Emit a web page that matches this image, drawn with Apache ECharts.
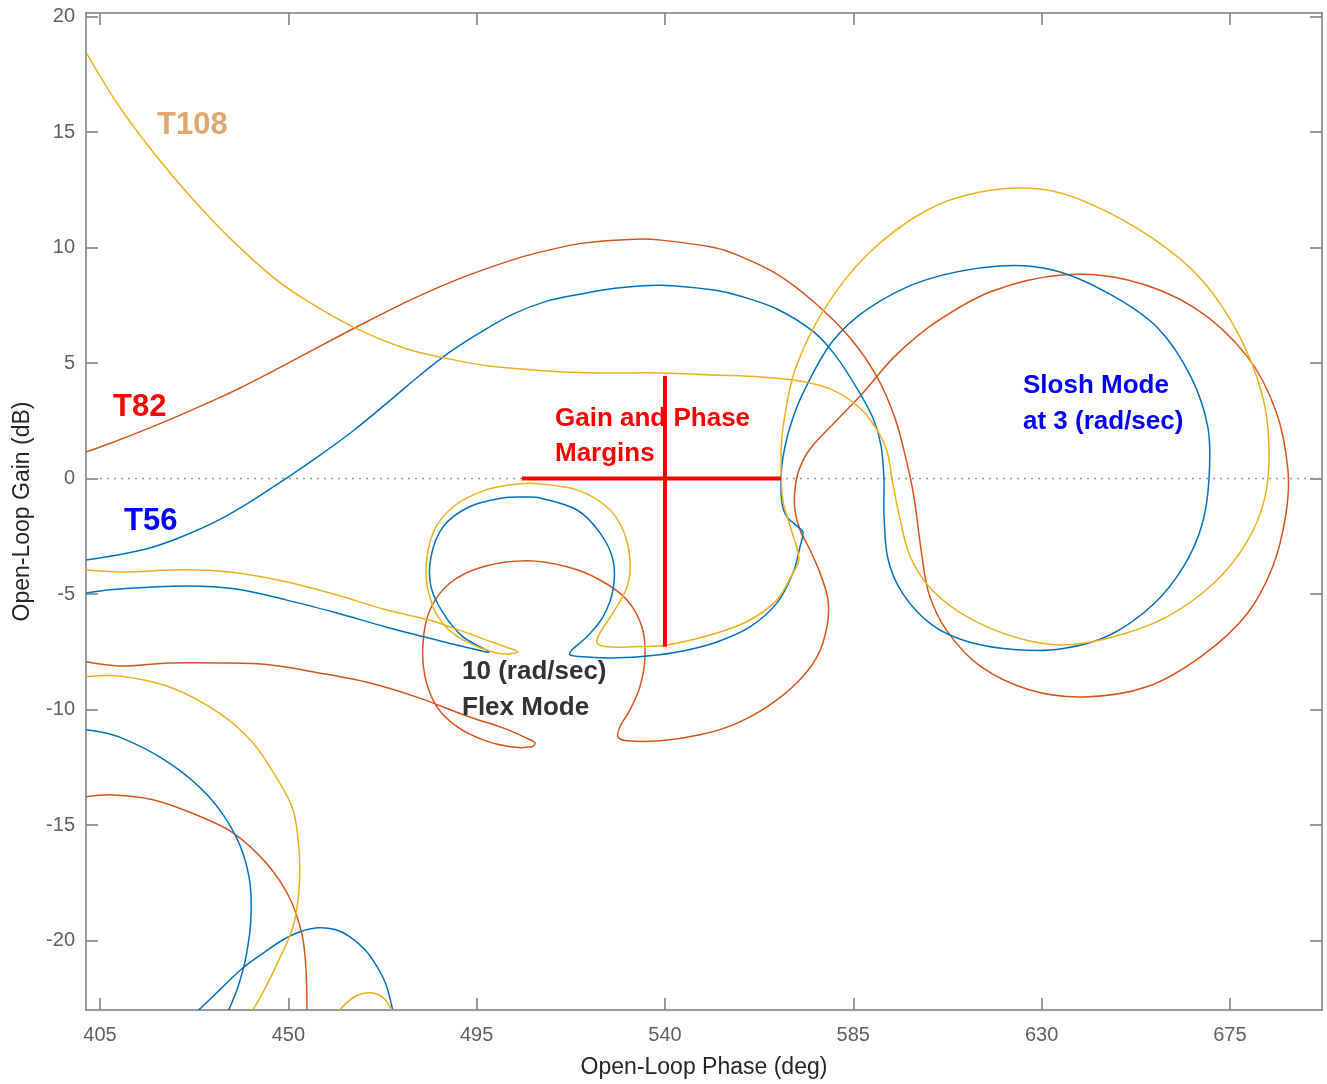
<!DOCTYPE html>
<html>
<head>
<meta charset="utf-8">
<script src="https://cdn.jsdelivr.net/npm/echarts@6/dist/echarts.min.js"></script>
<style>
html, body { margin: 0; padding: 0; background: #ffffff; }
#chart { width: 1327px; height: 1084px; }
</style>
</head>
<body>
<div id="chart"></div>
<script>
// Axis ranges and tick values
const phaseRange = [401.65, 697];
const gainRange = [-23, 20.15];
const phaseTicks = [405, 450, 495, 540, 585, 630, 675];
const gainTicks = [-20, -15, -10, -5, 0, 5, 10, 15, 20];

// Nichols traces: [open-loop phase (deg), open-loop gain (dB)]
const t56Main = [
  [401.65,-4.95],[409.54,-4.78],[425.55,-4.65],[437.50,-4.78],[449.44,-5.25],[461.39,-5.81],
  [473.34,-6.42],[485.28,-6.98],[493.17,-7.33],[497.95,-7.50],[491.74,-6.85],[486.96,-5.81],
  [484.09,-4.69],[484.09,-3.39],[486.96,-2.09],[493.17,-1.23],[501.29,-0.84],[506.79,-0.80],
  [510.13,-0.84],[518.97,-1.36],[524.47,-2.35],[527.58,-3.52],[527.58,-4.82],[525.19,-5.99],
  [521.36,-6.85],[517.78,-7.41],[517.30,-7.63],[521.36,-7.72],[528.53,-7.76],[536.42,-7.67],
  [544.30,-7.46],[552.43,-7.07],[560.31,-6.42],[566.76,-5.38],[570.59,-4.08],[572.26,-2.96],
  [572.98,-2.31],[571.78,-2.09],[569.15,-1.66],[567.96,-1.06],[567.72,0.03],[568.20,0.93],
  [569.87,2.23],[572.98,3.70],[579.90,5.91],[588.75,7.38],[602.13,8.59],[619.81,9.20],
  [632.95,9.02],[646.33,7.98],[657.80,6.51],[665.68,4.40],[669.75,2.19],[669.98,-0.06],
  [668.31,-2.01],[664.01,-3.78],[656.84,-5.42],[646.33,-6.77],[634.86,-7.37],[624.11,-7.41],
  [612.64,-7.07],[603.80,-6.33],[596.87,-4.99],[593.29,-3.48],[592.33,-1.53],[592.33,-0.06],
  [591.61,1.45],[589.70,2.62],[586.12,3.83],[580.86,5.30],[575.60,6.34],[566.76,7.34],
  [557.92,7.90],[551.71,8.16],[539.05,8.37],[528.05,8.24],[519.69,7.98],[511.81,7.68],
  [503.68,7.12],[495.80,6.32],[488.63,5.48],[481.22,4.44],[473.34,3.23],[465.45,2.06],
  [457.33,0.98],[449.68,0.03],[441.56,-0.93],[433.43,-1.79],[425.55,-2.44],[417.66,-2.96],
  [409.54,-3.30],[401.65,-3.52]
];
const t56LowArc = [
  [401.65,-10.87],[409.54,-11.18],[421.49,-12.30],[431.04,-13.77],[437.50,-15.50],
  [440.60,-17.23],[441.08,-18.96],[439.89,-20.69],[437.97,-21.99],[435.58,-23.07]
];
const t56LowHump = [
  [428.18,-23.07],[433.67,-22.12],[439.17,-21.17],[444.43,-20.48],[448.73,-19.96],
  [452.79,-19.61],[457.09,-19.44],[461.15,-19.52],[464.74,-19.83],[468.32,-20.39],
  [471.19,-21.12],[473.34,-21.90],[475.01,-23.07]
];

const t82Main = [
  [401.65,-7.93],[409.54,-8.11],[421.49,-7.98],[433.43,-7.98],[445.38,-8.06],[457.33,-8.41],
  [469.28,-8.84],[481.22,-9.49],[493.17,-10.31],[501.29,-10.79],[506.79,-11.22],[508.94,-11.44],
  [508.22,-11.61],[502.97,-11.61],[496.51,-11.31],[490.30,-10.74],[485.52,-9.88],[482.66,-8.58],
  [482.18,-7.11],[483.85,-5.68],[488.63,-4.52],[496.51,-3.82],[507.03,-3.56],[516.59,-3.82],
  [524.47,-4.39],[530.92,-5.25],[534.51,-6.42],[535.22,-7.72],[534.03,-9.01],[531.64,-10.01],
  [529.25,-10.74],[528.77,-11.18],[530.92,-11.35],[538.81,-11.35],[548.36,-11.09],[556.25,-10.66],
  [564.37,-9.88],[571.54,-8.84],[576.32,-7.72],[578.71,-6.42],[578.95,-5.25],[577.04,-4.08],
  [574.65,-3.09],[572.26,-2.22],[571.06,-1.36],[571.06,-0.49],[572.02,0.37],[574.65,1.28],
  [580.86,2.49],[587.07,3.66],[594.96,5.30],[604.75,6.77],[618.13,8.11],[634.86,8.81],
  [650.63,8.59],[666.64,7.38],[679.06,5.30],[685.99,2.92],[688.86,0.37],[688.38,-1.53],
  [685.28,-3.78],[679.06,-5.86],[668.31,-7.67],[655.17,-9.01],[640.12,-9.45],[626.98,-9.14],
  [615.27,-8.11],[607.38,-6.59],[603.08,-4.99],[601.17,-3.04],[599.50,-0.80],[597.59,0.85],
  [594.96,2.62],[590.66,4.40],[584.44,6.04],[575.60,7.64],[566.76,8.85],[557.92,9.63],
  [551.71,10.00],[539.05,10.32],[532.83,10.36],[520.41,10.19],[510.13,9.80],[502.25,9.39],
  [490.30,8.61],[478.36,7.66],[466.41,6.57],[454.46,5.43],[446.34,4.65],[438.45,3.92],
  [433.43,3.49],[421.49,2.54],[409.54,1.67],[401.65,1.15]
];
const t82LowArc = [
  [401.65,-13.77],[408.11,-13.69],[417.66,-13.90],[427.94,-14.55],[436.78,-15.33],
  [444.66,-16.63],[450.16,-18.10],[453.27,-19.74],[454.22,-21.25],[454.46,-23.07]
];

const t108Main = [
  [401.65,-3.95],[409.54,-4.04],[425.55,-3.95],[437.50,-4.08],[449.44,-4.47],[461.39,-5.03],
  [473.34,-5.68],[483.61,-6.12],[489.35,-6.46],[497.23,-6.98],[501.77,-7.28],[504.88,-7.50],
  [501.29,-7.59],[497.23,-7.41],[491.74,-6.98],[487.67,-6.42],[484.57,-5.55],[482.89,-4.08],
  [484.57,-2.35],[489.35,-1.23],[497.23,-0.49],[505.12,-0.23],[510.13,-0.23],[518.97,-0.49],
  [526.14,-1.23],[529.97,-2.22],[531.64,-3.52],[530.92,-4.69],[527.58,-5.81],[524.47,-6.68],
  [523.75,-7.11],[526.14,-7.28],[532.36,-7.28],[540.48,-7.20],[552.43,-6.68],[560.31,-6.12],
  [566.76,-5.25],[570.59,-4.08],[572.02,-3.48],[570.35,-2.31],[568.20,-0.97],[567.72,0.67],
  [568.20,2.19],[571.06,4.70],[578.23,7.38],[588.75,9.76],[602.13,11.57],[615.27,12.40],
  [629.60,12.53],[641.79,11.88],[656.84,10.36],[668.31,8.59],[677.15,6.21],[682.65,3.66],
  [684.32,1.45],[683.37,-0.80],[679.06,-2.74],[671.18,-4.52],[659.47,-6.03],[646.33,-6.89],
  [634.86,-7.20],[624.11,-6.89],[612.64,-6.03],[603.80,-4.82],[598.54,-3.35],[595.91,-1.53],
  [594.24,-0.02],[593.29,1.02],[591.37,1.89],[587.07,2.97],[580.14,3.83],[572.26,4.22],
  [562.94,4.40],[551.71,4.48],[539.05,4.57],[526.62,4.57],[519.69,4.59],[510.13,4.68],
  [498.19,4.87],[488.63,5.17],[478.36,5.61],[466.41,6.48],[454.46,7.69],[446.34,8.72],
  [436.54,10.32],[426.74,12.18],[417.90,14.08],[409.06,16.25],[401.65,18.45]
];
const t108LowArc = [
  [401.65,-8.58],[409.54,-8.54],[421.49,-9.01],[433.43,-10.14],[441.56,-11.44],[447.05,-12.91],
  [451.12,-14.33],[452.55,-16.06],[452.55,-17.79],[451.12,-19.40],[447.77,-20.82],
  [444.66,-21.99],[441.32,-23.07]
];
const t108LowHump = [
  [461.87,-23.07],[465.45,-22.47],[469.04,-22.25],[472.38,-22.42],[475.01,-23.07]
];

// Reference line and margin markers
const zeroDbLine = [[401.65, 0], [697, 0]];
const gainMarginLine = [[505.8, 0], [567.7, 0]];
const phaseMarginLine = [[540, 4.44], [540, -7.28]];

const BLUE = '#0072BD', RED = '#D95319', YELLOW = '#EDB120';
const FONT = '"Liberation Sans", Arial, Helvetica, sans-serif';
const AXIS_GRAY = '#7a7a7a';

// A whole trace is drawn as one smoothed polyline, positioned through the axes
function trace(data, color, z) {
  return {
    type: 'custom',
    coordinateSystem: 'cartesian2d',
    data: data,
    encode: { x: 0, y: 1 },
    silent: true,
    z: z || 2,
    renderItem: function (params, api) {
      if (params.dataIndex !== 0) return null;
      const pts = data.map(function (p) { return api.coord(p); });
      const cs = params.coordSys;
      return {
        type: 'polyline',
        shape: { points: pts, smooth: 0.33, smoothConstraint: false },
        style: { stroke: color, lineWidth: 1.5, fill: 'none' },
        clipPath: { type: 'rect', shape: { x: cs.x, y: cs.y, width: cs.width, height: cs.height } }
      };
    }
  };
}

const chart = echarts.init(document.getElementById('chart'), null, { renderer: 'canvas' });

const baseX = {
  type: 'value', min: phaseRange[0], max: phaseRange[1],
  splitLine: { show: false },
  axisLine: { show: true, onZero: false, lineStyle: { color: AXIS_GRAY, width: 1.5 } },
  axisTick: { show: true, inside: true, length: 12, customValues: phaseTicks,
              lineStyle: { color: AXIS_GRAY, width: 1.5 } }
};
const baseY = {
  type: 'value', min: gainRange[0], max: gainRange[1],
  splitLine: { show: false },
  axisLine: { show: true, onZero: false, lineStyle: { color: AXIS_GRAY, width: 1.5 } },
  axisTick: { show: true, inside: true, length: 12, customValues: gainTicks,
              lineStyle: { color: AXIS_GRAY, width: 1.5 } }
};

const textEl = (text, x, y, size, color) => ({
  type: 'text', x: x, y: y, z: 100,
  style: { text: text, fill: color, font: 'bold ' + size + 'px ' + FONT,
           textAlign: 'left', textVerticalAlign: 'middle' }
});

chart.setOption({
  animation: false,
  backgroundColor: '#ffffff',
  grid: { left: 86, right: 5, top: 13, bottom: 74, containLabel: false, outerBoundsMode: 'none' },
  xAxis: [
    Object.assign({}, baseX, {
      position: 'bottom',
      name: 'Open-Loop Phase (deg)', nameLocation: 'middle', nameGap: 46,
      nameTextStyle: { color: '#262626', fontSize: 23, fontFamily: FONT },
      axisLabel: { show: true, customValues: phaseTicks, margin: 15, color: '#5f5f5f',
                   fontSize: 20, fontFamily: FONT }
    }),
    Object.assign({}, baseX, { position: 'top', axisLabel: { show: false } })
  ],
  yAxis: [
    Object.assign({}, baseY, {
      position: 'left',
      name: 'Open-Loop Gain (dB)', nameLocation: 'middle', nameGap: 52, nameRotate: 90,
      nameTextStyle: { color: '#262626', fontSize: 23, fontFamily: FONT },
      axisLabel: { show: true, customValues: gainTicks, margin: 11, color: '#5f5f5f',
                   fontSize: 20, fontFamily: FONT }
    }),
    Object.assign({}, baseY, { position: 'right', axisLabel: { show: false } })
  ],
  series: [
    {
      type: 'line', data: zeroDbLine, showSymbol: false, symbol: 'none', silent: true, z: 1,
      lineStyle: { color: '#9a9a9a', width: 1.5, type: [2, 5] }
    },
    trace(t82LowArc, RED), trace(t82Main, RED),
    trace(t56LowArc, BLUE), trace(t56LowHump, BLUE), trace(t56Main, BLUE),
    trace(t108LowArc, YELLOW), trace(t108LowHump, YELLOW), trace(t108Main, YELLOW),
    {
      type: 'line', data: gainMarginLine, showSymbol: false, symbol: 'none', silent: true, z: 5,
      lineStyle: { color: '#ff0000', width: 4 }
    },
    {
      type: 'line', data: phaseMarginLine, showSymbol: false, symbol: 'none', silent: true, z: 5,
      lineStyle: { color: '#ff0000', width: 4 }
    }
  ],
  graphic: [
    textEl('T108', 157, 125, 31, '#E2A76C'),
    textEl('T82', 113, 407, 31, '#ff0000'),
    textEl('T56', 124, 521, 31, '#0000ff'),
    textEl('Gain and Phase', 555, 419, 26, '#ff0000'),
    textEl('Margins', 555, 454, 26, '#ff0000'),
    textEl('10 (rad/sec)', 462, 672, 26, '#333333'),
    textEl('Flex Mode', 462, 708, 26, '#333333'),
    textEl('Slosh Mode', 1023, 386, 26, '#0000ff'),
    textEl('at 3 (rad/sec)', 1023, 422, 26, '#0000ff')
  ]
});
</script>
</body>
</html>
